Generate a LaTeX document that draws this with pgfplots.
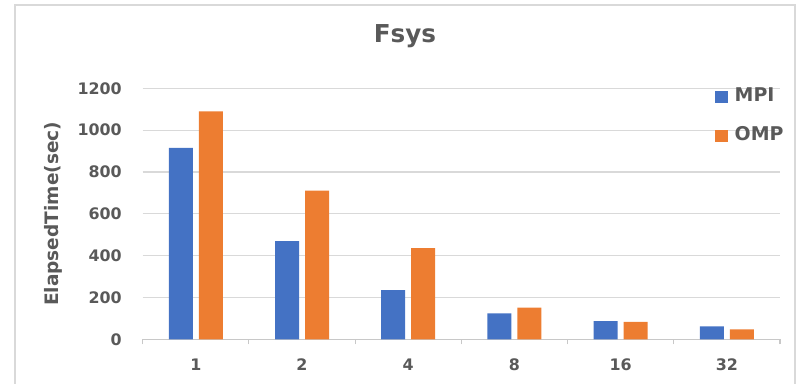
\documentclass[border=0pt]{standalone}
\usepackage{pgfplots}
\pgfplotsset{compat=1.18}
\usepackage{fontspec}
\setmainfont{DejaVu Sans}

\definecolor{mpiblue}{HTML}{4472C4}
\definecolor{omporange}{HTML}{ED7D31}
\definecolor{txtgray}{HTML}{595959}
\definecolor{gridgray}{HTML}{D9D9D9}
\definecolor{axgray}{HTML}{C8C8C8}
\definecolor{framegray}{HTML}{D9D9D9}

% elapsed time (sec) per process/thread count
\pgfplotstableread{
idx procs MPI OMP
0 1  915 1090
1 2  469 711
2 4  235 436
3 8  124 151
4 16 87  83
5 32 62  48
}\fsysdata

\begin{document}
\begin{tikzpicture}
% canvas and chart frame
\path[use as bounding box] (0pt,0pt) rectangle (598.5pt,288pt);
\draw[framegray, line width=1pt] (11.25pt,-2pt) -- (11.25pt,284.25pt) -- (596.25pt,284.25pt) -- (596.25pt,-2pt);

\begin{axis}[
  at={(107pt,33.5pt)}, anchor=south west,
  scale only axis,
  width=478pt, height=188.25pt,
  ybar=4.5pt, bar width=18pt,
  xmin=-0.5, xmax=5.5,
  ymin=0, ymax=1200,
  xtick=data,
  xticklabels={1,2,4,8,16,32},
  minor xtick={-0.5,0.5,1.5,2.5,3.5,4.5,5.5},
  ytick={0,200,...,1200},
  axis x line*=bottom,
  axis y line*=left,
  x axis line style={draw=axgray, line width=0.8pt, -},
  y axis line style={draw=none},
  tick align=outside,
  major tick length=0pt,
  minor tick length=3.75pt,
  minor tick style={draw=axgray, line width=0.8pt},
  ymajorgrids,
  grid style={draw=gridgray, line width=0.8pt},
  /pgf/number format/assume math mode=true,
  /pgf/number format/1000 sep={},
  tick label style={font=\fontsize{11.9}{13}\selectfont\bfseries, text=txtgray},
  yticklabel style={anchor=east, inner sep=0pt, xshift=-15.5pt},
  xticklabel style={anchor=north, inner sep=0pt, yshift=-14.5pt},
  ylabel={ElapsedTime(sec)},
  ylabel style={at={(axis description cs:-0.1407,0.5)}, anchor=center, rotate=0,
    font=\fontsize{13.9}{16}\selectfont\bfseries, text=txtgray},
  title={Fsys},
  title style={at={(axis description cs:0.4116,1.1526)}, anchor=base,
    font=\fontsize{18.5}{22}\selectfont\bfseries, text=txtgray},
  legend cell align=left,
  legend style={at={(axis description cs:0.898,1.0)}, anchor=north west,
    draw=none, fill=none, inner sep=0pt, outer sep=0pt,
    row sep=15.9pt, column sep=5pt,
    font=\fontsize{14.2}{16}\selectfont\bfseries, text=txtgray,
    nodes={inner sep=0pt, text height=10pt, text depth=3pt}},
  legend image code/.code={\fill[#1] (0pt,-4.5pt) rectangle (9.75pt,4.5pt);},
]
\addplot[fill=mpiblue, draw=none] table[x=idx, y=MPI] {\fsysdata};
\addplot[fill=omporange, draw=none] table[x=idx, y=OMP] {\fsysdata};
\legend{MPI, OMP}
\end{axis}
\end{tikzpicture}
\end{document}
